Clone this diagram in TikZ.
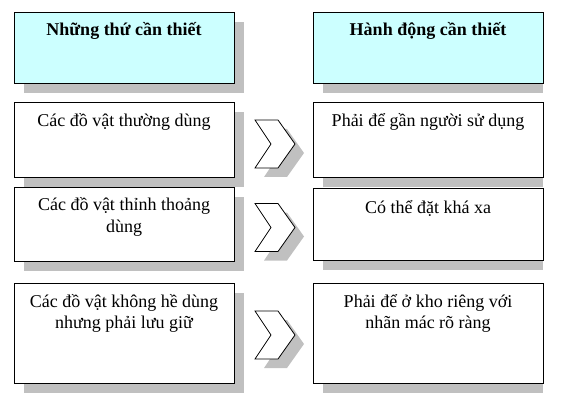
\documentclass[tikz,border=0pt]{standalone}
\usepackage{fontspec}
\setmainfont{Liberation Serif}
\definecolor{hdrfill}{RGB}{204,255,255}
\definecolor{shadgray}{RGB}{192,192,192}
\begin{document}
\begin{tikzpicture}[x=1pt,y=-1pt,
  shad/.style={fill=shadgray,draw=none},
  boxline/.style={draw=black,line width=0.9pt},
  txt/.style={font=\fontsize{18}{21}\selectfont,align=center,anchor=base,inner sep=0pt},
  chev/.style={draw=black,line width=0.8pt,fill=white,line join=miter}]
\useasboundingbox (0,0) rectangle (567,406);
% shadows
\foreach \x/\ya/\yb in {14/12/83,313/12/83,14/102/177,313/102/177,14/187/261,313/188/260,14/283/383,313/283/383}{
  \fill[shad] (\x+10,\ya+10) rectangle (\x+230,\yb+10);
}
% header boxes
\draw[boxline,fill=hdrfill] (14,12) rectangle (234,83);
\draw[boxline,fill=hdrfill] (313,12) rectangle (543,83);
\node[txt,font=\fontsize{18}{21}\selectfont\bfseries] (th1) at (124,36) {Những thứ cần thiết};
\node[txt,font=\fontsize{18}{21}\selectfont\bfseries] (th2) at (428,36) {Hành động cần thiết};
% rows
\draw[boxline,fill=white] (14,102) rectangle (234,177);
\draw[boxline,fill=white] (313,102) rectangle (543,177);
\draw[boxline,fill=white] (14,187) rectangle (234,261);
\draw[boxline,fill=white] (313,188) rectangle (543,260);
\draw[boxline,fill=white] (14,283) rectangle (234,383);
\draw[boxline,fill=white] (313,283) rectangle (543,383);
\node[txt] (l1) at (124,127) {Các đồ vật thường dùng};
\node[txt] (r1) at (428,127) {Phải để gần người sử dụng};
\node[txt] (l2) at (124,232) {Các đồ vật thỉnh thoảng\\dùng};
\node[txt] (r2) at (428,213) {Có thể đặt khá xa};
\node[txt] (l3) at (124,328) {Các đồ vật không hề dùng\\nhưng phải lưu giữ};
\node[txt] (r3) at (428,328) {Phải để ở kho riêng với\\nhãn mác rõ ràng};
% chevrons
\foreach \c in {144,227.5,335}{
  \fill[shad] (264,\c-24+9) -- (287,\c-24+9) -- (304,\c+9) -- (287,\c+24+9) -- (264,\c+24+9) -- (280,\c+9) -- cycle;
  \draw[chev] (255,\c-24) -- (278,\c-24) -- (295,\c) -- (278,\c+24) -- (255,\c+24) -- (271,\c) -- cycle;
}
\end{tikzpicture}
\end{document}
